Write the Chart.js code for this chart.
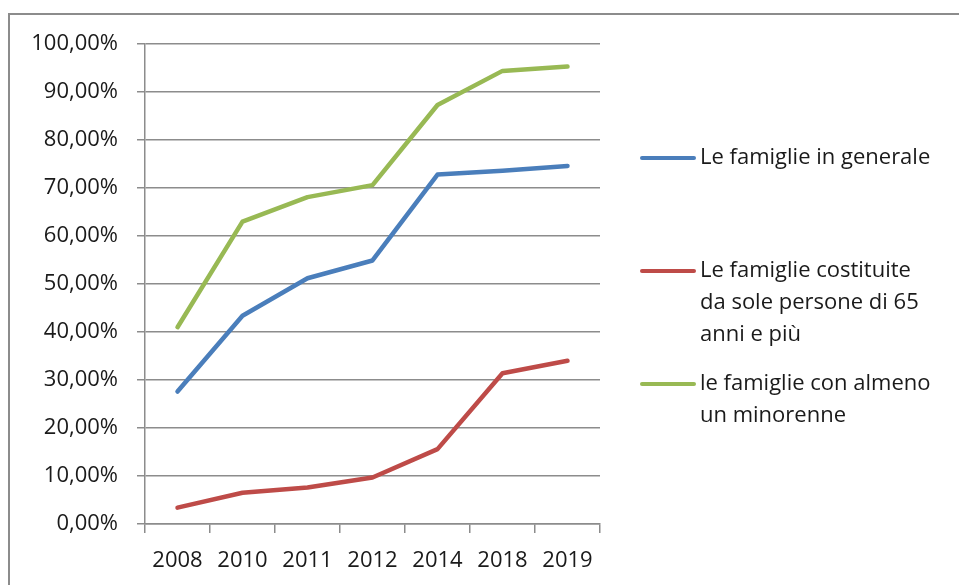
<!DOCTYPE html>
<html>
<head>
<meta charset="utf-8">
<script src="https://cdn.jsdelivr.net/npm/chart.js@4/dist/chart.umd.min.js"></script>
<style>
    html, body { margin: 0; padding: 0; background: #fff; }
    #wrap { position: relative; width: 959px; height: 585px; }
    #frame {
        position: absolute; left: 8px; top: 13px; right: -4px; bottom: -4px;
        border-left: 2px solid #8c8c8c; border-top: 2px solid #8c8c8c;
    }
    canvas { position: absolute; left: 0; top: 0; }
</style>
</head>
<body>
<div id="wrap">
    <div id="frame"></div>
    <canvas id="chart" width="959" height="585"></canvas>
</div>
<script>
const years = ["2008", "2010", "2011", "2012", "2014", "2018", "2019"];

const famiglieGenerale = [27.6, 43.4, 51.2, 54.9, 72.8, 73.6, 74.6];
const famiglieAnziani  = [3.4, 6.5, 7.6, 9.7, 15.6, 31.4, 34.0];
const famiglieMinori   = [41.0, 63.0, 68.1, 70.6, 87.3, 94.4, 95.3];

// legend text, one entry per row of the legend box
const seriesNames = [
    ["Le famiglie in generale"],
    ["Le famiglie costituite", "da sole persone di 65", "anni e più"],
    ["le famiglie con almeno", "un minorenne"]
];

const seriesColors = ["#4a7ebb", "#be4b48", "#98b954"];

const FONT = "'Open Sans', sans-serif";
const TEXT = "#1a1a1a";
const GRID = "#8c8c8c";

function series(values, i) {
    return {
        label: seriesNames[i].join(" "),
        data: values,
        borderColor: seriesColors[i],
        backgroundColor: seriesColors[i],
        borderWidth: 4.5,
        borderCapStyle: "round",
        borderJoinStyle: "round",
        pointRadius: 0,
        tension: 0
    };
}

// legend on the right, rows spread evenly like the office chart
const sideLegend = {
    id: "sideLegend",
    afterDraw(chart) {
        const ctx = chart.ctx;
        const top = 158, step = 113, lineGap = 32;
        ctx.save();
        ctx.font = "22px " + FONT;
        ctx.textBaseline = "middle";
        ctx.textAlign = "left";
        chart.data.datasets.forEach((ds, i) => {
            const y = top + i * step;
            ctx.strokeStyle = ds.borderColor;
            ctx.lineWidth = 4;
            ctx.lineCap = "round";
            ctx.beginPath();
            ctx.moveTo(642, y);
            ctx.lineTo(694, y);
            ctx.stroke();
            ctx.fillStyle = TEXT;
            seriesNames[i].forEach((line, k) => {
                ctx.fillText(line, 700, y + k * lineGap);
            });
        });
        ctx.restore();
    }
};

new Chart(document.getElementById("chart"), {
    type: "line",
    data: {
        labels: years,
        datasets: [
            series(famiglieGenerale, 0),
            series(famiglieAnziani, 1),
            series(famiglieMinori, 2)
        ]
    },
    options: {
        responsive: false,
        animation: false,
        layout: { padding: { left: 0, right: 359, top: 44, bottom: 0 } },
        plugins: {
            legend: { display: false },
            tooltip: { enabled: false }
        },
        scales: {
            x: {
                offset: true,
                afterFit(scale) { scale.height = 61; },
                border: { color: GRID, width: 1.5 },
                grid: {
                    offset: true,
                    drawOnChartArea: false,
                    drawTicks: true,
                    tickLength: 9,
                    color: GRID,
                    lineWidth: 1.5
                },
                ticks: {
                    color: TEXT,
                    padding: 15,
                    maxRotation: 0,
                    font: { family: FONT, size: 22 }
                }
            },
            y: {
                min: 0,
                max: 100,
                afterFit(scale) { scale.width = 145; },
                border: { color: GRID, width: 1.5 },
                grid: {
                    color: GRID,
                    lineWidth: 1.5,
                    drawTicks: true,
                    tickLength: 8
                },
                ticks: {
                    stepSize: 10,
                    color: TEXT,
                    padding: 19,
                    font: { family: FONT, size: 22 },
                    callback: v => v.toFixed(2).replace(".", ",") + "%"
                }
            }
        }
    },
    plugins: [sideLegend]
});
</script>
</body>
</html>
